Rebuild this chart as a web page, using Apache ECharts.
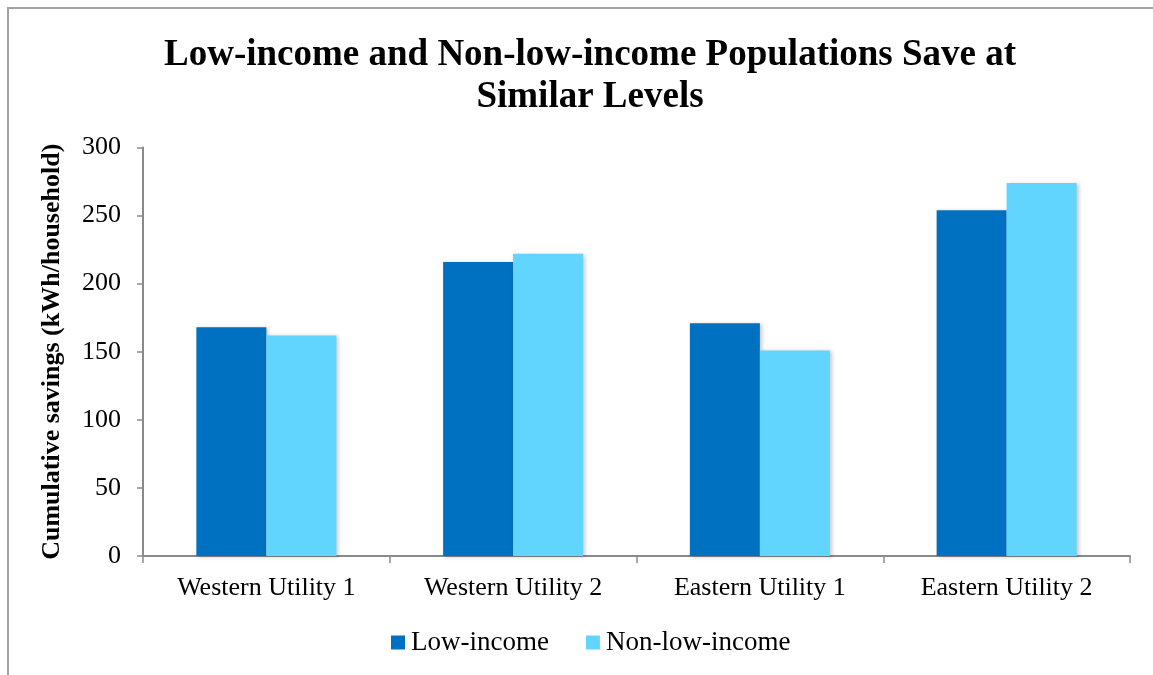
<!DOCTYPE html>
<html>
<head>
<meta charset="utf-8">
<title>Cumulative savings by utility</title>
<script src="https://cdn.jsdelivr.net/npm/echarts@6/dist/echarts.min.js"></script>
<style>
  html, body { margin: 0; padding: 0; background: #ffffff; }
  #chart { width: 1153px; height: 675px; }
</style>
</head>
<body>
<div id="chart"></div>
<script>
// Utilities compared on the category axis
const categories = ['Western Utility 1', 'Western Utility 2', 'Eastern Utility 1', 'Eastern Utility 2'];

// Cumulative savings per household (kWh)
const lowIncome = [168, 216, 171, 254];
const nonLowIncome = [162, 222, 151, 274];

const seriesNames = ['Low-income', 'Non-low-income'];
const yTicks = { min: 0, max: 300, interval: 50 };

const serif = '"Liberation Serif", "Times New Roman", serif';
const axisGray = '#8a8a8a';

const chart = echarts.init(document.getElementById('chart'), null, { renderer: 'canvas' });

const barStyle = (color) => ({
  color: color,
  shadowColor: 'rgba(0,0,0,0.22)',
  shadowBlur: 4,
  shadowOffsetX: 2,
  shadowOffsetY: 1
});

chart.setOption({
  backgroundColor: '#ffffff',
  animation: false,
  graphic: [{
    type: 'rect',
    shape: { x: 8, y: 8, width: 1300, height: 800 },
    style: { fill: 'none', stroke: '#a3a3a3', lineWidth: 2 },
    silent: true
  }],
  title: {
    text: 'Low-income and Non-low-income Populations Save at\nSimilar Levels',
    left: 585,
    top: 29,
    textAlign: 'center',
    textStyle: {
      fontFamily: serif,
      fontWeight: 'bold',
      fontSize: 37,
      lineHeight: 42,
      color: '#000000'
    }
  },
  legend: {
    data: seriesNames,
    left: 386,
    top: 624,
    itemWidth: 14,
    itemHeight: 14,
    itemGap: 37,
    icon: 'rect',
    textStyle: { fontFamily: serif, fontSize: 27, color: '#000000', padding: [0, 0, 0, 1] }
  },
  grid: { left: 143, right: 23, top: 147.5, bottom: 119, containLabel: false },
  xAxis: {
    type: 'category',
    data: categories,
    axisLine: { lineStyle: { color: axisGray, width: 2 } },
    axisTick: { show: true, length: 7, lineStyle: { color: axisGray, width: 1.5 } },
    axisLabel: { fontFamily: serif, fontSize: 26, color: '#000000', margin: 19 }
  },
  yAxis: {
    type: 'value',
    min: yTicks.min,
    max: yTicks.max,
    interval: yTicks.interval,
    name: 'Cumulative savings (kWh/household)',
    nameLocation: 'middle',
    nameRotate: 90,
    nameGap: 78,
    nameTextStyle: { fontFamily: serif, fontWeight: 'bold', fontSize: 26, color: '#000000' },
    axisLine: { show: true, lineStyle: { color: axisGray, width: 2 } },
    axisTick: { show: true, length: 6, lineStyle: { color: axisGray, width: 1.5 } },
    splitLine: { show: false },
    axisLabel: { fontFamily: serif, fontSize: 26, color: '#000000', margin: 22 }
  },
  series: [
    {
      name: seriesNames[0],
      type: 'bar',
      data: lowIncome,
      barWidth: 70,
      barGap: '0%',
      itemStyle: barStyle('#0070c0')
    },
    {
      name: seriesNames[1],
      type: 'bar',
      data: nonLowIncome,
      barWidth: 70,
      barGap: '0%',
      itemStyle: barStyle('#62d5fe')
    }
  ]
});
</script>
</body>
</html>
